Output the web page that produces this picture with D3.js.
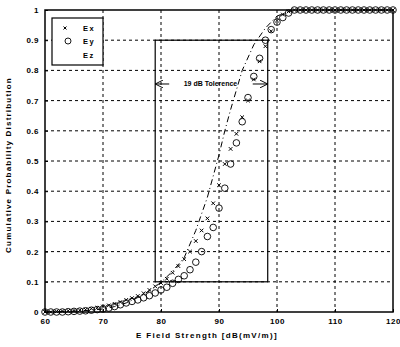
<html>
<script src='https://d3js.org/d3.v7.min.js'></script>
<style>
body {margin:0; background:white;}
text {font-family: "Liberation Sans", Arial, sans-serif; font-weight: bold; fill: black;}
</style>
<body>
<svg width=400 height=347></svg>
<script>
// data (E field strength in dB(mV/m), CDF values)
var fieldX = [60,61,62,63,64,65,66,67,68,69,70,71,72,73,74,75,76,77,78,79,80,81,82,83,84,85,86,87,88,89,90,
  91,92,93,94,95,96,97,98,99,100,101,102,103,104,105,106,107,108,109,110,111,112,113,114,115,116,117,118,119,120]
var exVals = [0,0,0.002,0.003,0.004,0.005,0.006,0.008,0.011,0.014,0.018,0.022,0.027,0.033,0.04,0.046,0.053,0.062,0.073,0.085,0.096,
  0.11,0.13,0.152,0.175,0.2,0.235,0.27,0.31,0.36,0.42,0.49,0.54,0.59,0.645,0.7,0.77,0.83,0.88,0.93,0.965,0.985,0.995,
  1,1,1,1,1,1,1,1,1,1,1,1,1,1,1,1,1,1]
var eyVals = [0,0,0,0,0.001,0.002,0.003,0.004,0.006,0.008,0.01,0.013,0.018,0.024,0.03,0.035,0.04,0.047,0.054,0.063,0.073,
  0.082,0.095,0.108,0.12,0.14,0.165,0.2,0.25,0.28,0.344,0.41,0.49,0.56,0.63,0.71,0.78,0.84,0.9,0.935,0.96,0.975,0.99,
  1,1,1,1,1,1,1,1,1,1,1,1,1,1,1,1,1,1]
var ezX = [60,62,64,66,68,70,72,74,76,78,80,82,84,86,88,90,91,92,94,96,98,100,102,104,120]
var ezVals = [0,0.001,0.002,0.004,0.006,0.01,0.018,0.03,0.048,0.07,0.098,0.135,0.18,0.27,0.38,0.52,0.6,0.67,0.8,0.885,0.94,0.98,0.995,1,1]
var xTicks = [60,70,80,90,100,110,120]
var yTicks = [0,0.1,0.2,0.3,0.4,0.5,0.6,0.7,0.8,0.9,1]
var boxX = [79, 98.4]
var boxY = [0.1, 0.9]
var arrowY = 0.755

var pL = 45, pR = 393, pT = 10, pB = 312

var svg = d3.select("svg")
var x = d3.scaleLinear().domain([60,120]).range([pL,pR])
var y = d3.scaleLinear().domain([0,1]).range([pB,pT])

// grid
svg.append("g").selectAll("line").data(xTicks.slice(1,-1)).enter().append("line")
  .attr("x1", d => x(d)).attr("x2", d => x(d)).attr("y1", pT).attr("y2", pB)
  .attr("stroke", "black").attr("stroke-width", 1).attr("stroke-dasharray", "3,3")
svg.append("g").selectAll("line").data(yTicks.slice(1,-1)).enter().append("line")
  .attr("y1", d => y(d)).attr("y2", d => y(d)).attr("x1", pL).attr("x2", pR)
  .attr("stroke", "black").attr("stroke-width", 1).attr("stroke-dasharray", "3,3")

// axes
svg.append("g").attr("transform", "translate(0," + pB + ")")
  .call(d3.axisBottom(x).tickValues(xTicks).tickSize(-3).tickPadding(6))
svg.append("g").attr("transform", "translate(" + pL + ",0)")
  .call(d3.axisLeft(y).tickValues(yTicks).tickSize(-3).tickPadding(6).tickFormat(d3.format("~g")))
svg.selectAll(".tick text").style("font-size", "8px").style("font-family", "Liberation Sans, Arial")
  .style("font-weight", "bold").style("letter-spacing", "0.5px")
svg.selectAll(".domain").remove()

svg.append("rect").attr("x", pL).attr("y", pT).attr("width", pR-pL).attr("height", pB-pT)
  .attr("fill", "none").attr("stroke", "black").attr("stroke-width", 1.5)

// tolerance box
svg.append("rect").attr("x", x(boxX[0])).attr("y", y(boxY[1]))
  .attr("width", x(boxX[1]) - x(boxX[0])).attr("height", y(boxY[0]) - y(boxY[1]))
  .attr("fill", "none").attr("stroke", "black").attr("stroke-width", 1.2)

svg.append("defs").append("marker").attr("id", "arr").attr("viewBox", "0 0 10 10")
  .attr("refX", 10).attr("refY", 5).attr("markerWidth", 8).attr("markerHeight", 8).attr("orient", "auto")
  .append("path").attr("d", "M0,0 L10,5 L0,10").attr("fill", "none").attr("stroke", "black").attr("stroke-width", 1.2)

svg.append("line").attr("x1", x(boxX[0]) + 14).attr("x2", x(boxX[0])).attr("y1", y(arrowY)).attr("y2", y(arrowY))
  .attr("stroke", "black").attr("stroke-width", 1).attr("marker-end", "url(#arr)")
svg.append("line").attr("x1", x(boxX[1]) - 15).attr("x2", x(boxX[1])).attr("y1", y(arrowY)).attr("y2", y(arrowY))
  .attr("stroke", "black").attr("stroke-width", 1).attr("marker-end", "url(#arr)")
svg.append("text").attr("x", (x(boxX[0]) + x(boxX[1])) / 2 - 1).attr("y", y(arrowY)).attr("dy", "0.35em")
  .attr("text-anchor", "middle").style("font-size", "7px").text("19 dB Tolerence")

// Ez line
var line = d3.line().x((d,i) => x(ezX[i])).y(d => y(d))
svg.append("path").datum(ezVals).attr("d", line).attr("fill", "none")
  .attr("stroke", "black").attr("stroke-width", 1).attr("stroke-dasharray", "6,3,1,3")

// Ey circles
svg.append("g").selectAll("circle").data(eyVals).enter().append("circle")
  .attr("cx", (d,i) => x(fieldX[i])).attr("cy", d => y(d)).attr("r", 3.3)
  .attr("fill", "none").attr("stroke", "black").attr("stroke-width", 0.9)

// Ex crosses
var s = 1.8
svg.append("g").selectAll("path").data(exVals).enter().append("path")
  .attr("transform", (d,i) => "translate(" + x(fieldX[i]) + "," + y(d) + ")")
  .attr("d", "M" + (-s) + "," + (-s) + "L" + s + "," + s + "M" + (-s) + "," + s + "L" + s + "," + (-s))
  .attr("stroke", "black").attr("stroke-width", 1)

// legend
svg.append("rect").attr("x", 52).attr("y", 18).attr("width", 51).attr("height", 47)
  .attr("fill", "white").attr("stroke", "black").attr("stroke-width", 1.2)
svg.append("path").attr("transform", "translate(65,28)")
  .attr("d", "M-1.5,-1.5L1.5,1.5M-1.5,1.5L1.5,-1.5").attr("stroke", "black").attr("stroke-width", 1)
svg.append("circle").attr("cx", 68).attr("cy", 41).attr("r", 3).attr("fill", "none").attr("stroke", "black").attr("stroke-width", 0.9)
var leg = ["Ex", "Ey", "Ez"]
svg.append("g").selectAll("text").data(leg).enter().append("text")
  .attr("x", 83).attr("y", (d,i) => 28 + i * 13.5).attr("dy", "0.35em")
  .style("font-size", "7.5px").style("letter-spacing", "1.5px").text(d => d)

// axis labels
svg.append("text").attr("x", 207).attr("y", 338).attr("text-anchor", "middle")
  .style("font-size", "8px").style("letter-spacing", "1.3px").text("E Field Strength [dB(mV/m)]")
svg.append("text").attr("transform", "translate(11,165) rotate(-90)")
  .attr("text-anchor", "middle").style("font-size", "8px").style("letter-spacing", "1.2px")
  .text("Cumulative Probability Distribution")
</script>
</body>
</html>
